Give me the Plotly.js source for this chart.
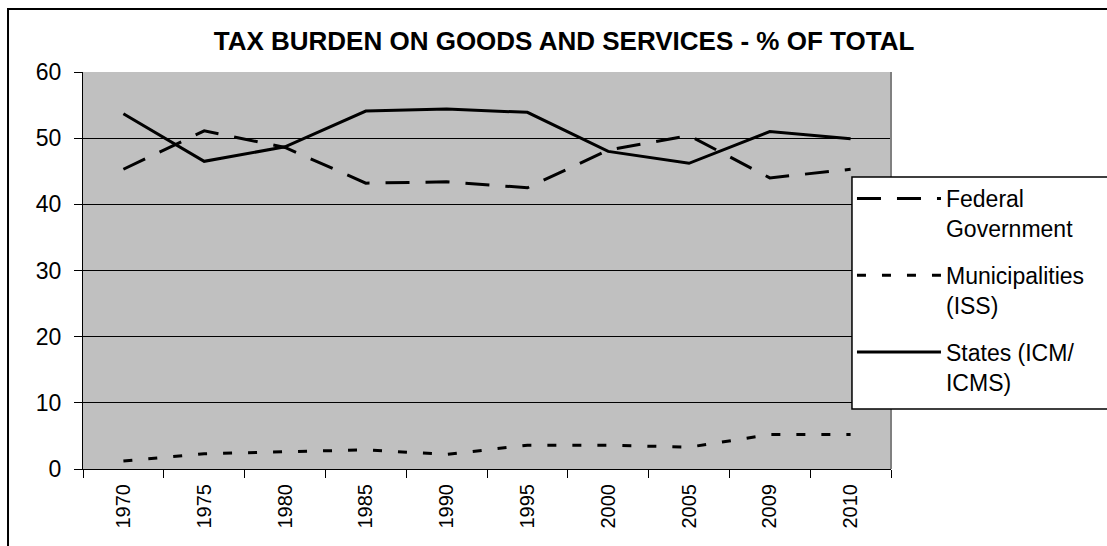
<!DOCTYPE html>
<html>
<head>
<meta charset="utf-8">
<script src="https://cdn.plot.ly/plotly-3.0.1.min.js"></script>
<style>html,body{margin:0;padding:0;background:#fff;}#chart{width:1107px;height:546px;}</style>
</head>
<body>
<div id="chart"></div>
<script>
const years = ["1970","1975","1980","1985","1990","1995","2000","2005","2009","2010"];
const federal = [45.3, 51.1, 48.6, 43.2, 43.4, 42.5, 48.2, 50.4, 44.0, 45.3];
const municipalities = [1.2, 2.3, 2.6, 2.9, 2.2, 3.6, 3.6, 3.3, 5.2, 5.2];
const states = [53.7, 46.5, 48.7, 54.1, 54.4, 53.9, 48.0, 46.2, 51.0, 49.9];
const seriesNames = ["Federal<br>Government", "Municipalities<br>(ISS)", "States (ICM/<br>ICMS)"];
const titleText = "TAX BURDEN ON GOODS AND SERVICES - % OF TOTAL";

const font = "Liberation Sans, Arial, sans-serif";
const traces = [
  {x: years, y: federal, name: seriesNames[0], legendgroup: "g1", type: "scatter", mode: "lines",
   line: {color: "#000", width: 3, dash: "24px,16px"}},
  {x: years, y: municipalities, name: seriesNames[1], legendgroup: "g2", type: "scatter", mode: "lines",
   line: {color: "#000", width: 3, dash: "9px,16px"}},
  {x: years, y: states, name: seriesNames[2], legendgroup: "g3", type: "scatter", mode: "lines",
   line: {color: "#000", width: 3, dash: "solid"}}
];
const layout = {
  width: 1107, height: 546,
  margin: {l: 83, r: 216, t: 72, b: 77, pad: 0},
  paper_bgcolor: "#fff",
  plot_bgcolor: "#c0c0c0",
  font: {family: font, color: "#000"},
  title: {text: "<b>" + titleText + "</b>", font: {family: font, size: 26, color: "#000"},
          xref: "paper", x: 0.5953, xanchor: "center", y: 0.925, yanchor: "middle"},
  xaxis: {type: "category", range: [-0.5, 9.5], tickson: "boundaries", ticks: "outside", ticklen: 8,
          tickcolor: "#000", tickwidth: 1, tickangle: -90, ticklabelstandoff: 6,
          tickfont: {family: font, size: 20, color: "#000"},
          showline: true, linecolor: "#000", linewidth: 1, showgrid: false, zeroline: false,
          fixedrange: true},
  yaxis: {range: [0, 60], dtick: 10, ticks: "outside", ticklen: 8, tickcolor: "#000", tickwidth: 1,
          ticklabelstandoff: 8,
          tickfont: {family: font, size: 23, color: "#000"}, showline: true, linecolor: "#000",
          linewidth: 1, showgrid: true, gridcolor: "#000", gridwidth: 1, zeroline: false,
          fixedrange: true},
  showlegend: true,
  legend: {x: 0.9517, xanchor: "left", y: 0.7355, yanchor: "top", bgcolor: "rgba(0,0,0,0)",
           borderwidth: 0, itemwidth: 84, tracegroupgap: 14,
           font: {family: font, size: 23, color: "#000"}, valign: "top"},
  shapes: [
    {type: "line", xref: "paper", yref: "paper", x0: 1, x1: 1, y0: 0, y1: 1,
     line: {color: "#808080", width: 2}},
    {type: "rect", xref: "paper", yref: "paper", x0: 0.9517, x1: 1.3, y0: 0.1511, y1: 0.7355,
     line: {color: "#000", width: 1.5}, fillcolor: "#fff", layer: "above"},
    {type: "rect", xref: "paper", yref: "paper", x0: -0.0928, x1: 1.3, y0: -0.3, y1: 1.1587,
     line: {color: "#000", width: 2}, fillcolor: "rgba(0,0,0,0)", layer: "above"}
  ]
};
Plotly.newPlot("chart", traces, layout, {displayModeBar: false, staticPlot: true});
</script>
</body>
</html>
